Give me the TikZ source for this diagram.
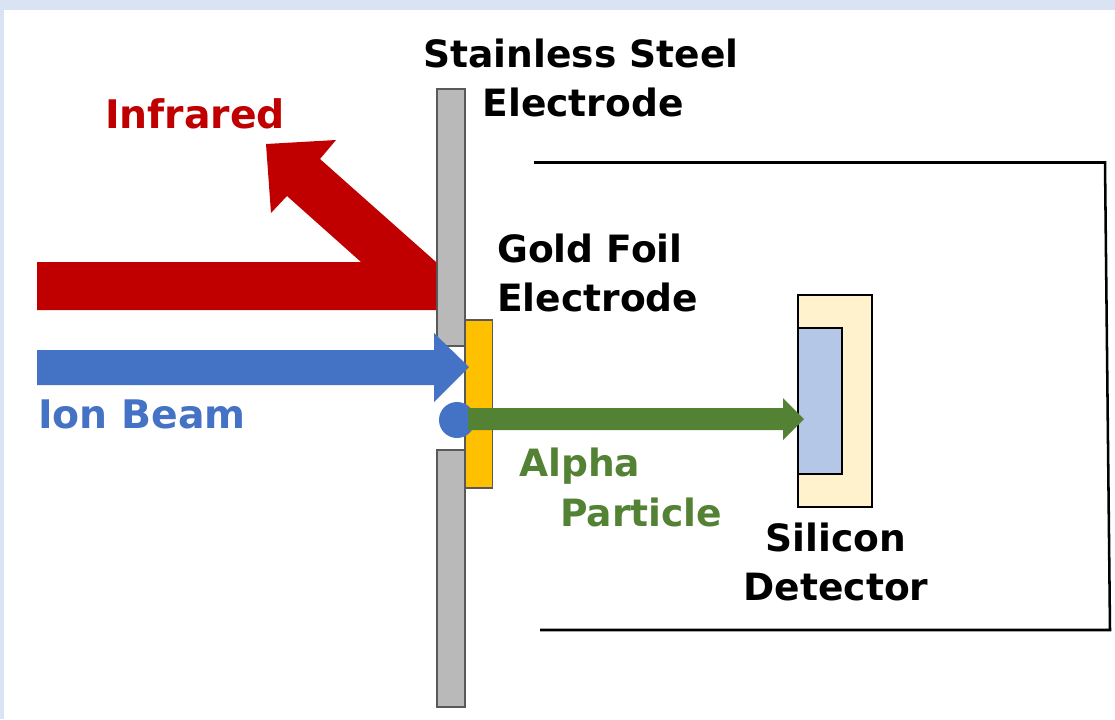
\documentclass[tikz,border=0pt]{standalone}
\usepackage{fontspec}
\setmainfont{DejaVu Sans}
\definecolor{bgblue}{HTML}{DAE3F3}
\definecolor{irred}{HTML}{C00000}
\definecolor{ionblue}{HTML}{4472C4}
\definecolor{alphagreen}{HTML}{548235}
\definecolor{gold}{HTML}{FFC000}
\definecolor{cream}{HTML}{FFF2CC}
\definecolor{siblue}{HTML}{B4C7E7}
\definecolor{steel}{HTML}{B9B9B9}
\definecolor{steeledge}{HTML}{595959}
\tikzset{
 lab/.style={font=\bfseries\fontsize{28.2pt}{37pt}\selectfont,align=center,inner sep=0pt,text=black},
 labbig/.style={lab,font=\bfseries\fontsize{29.5pt}{37pt}\selectfont},
 steelbar/.style={fill=steel,draw=steeledge,line width=1.6pt},
 detbox/.style={draw=black,line width=2.2pt},
 wall/.style={draw=black,line width=1.9pt}
}
\begin{document}
\begin{tikzpicture}[x=0.75pt,y=-0.75pt]
\useasboundingbox (0,0) rectangle (1115,719);
\fill[bgblue] (0,0) rectangle (1115,719);
\fill[white] (4,10) rectangle (1115,719);
% chamber
\draw[wall] (534,162.5) -- (1105,162.5) -- (1110,630) -- (540,630);
% steel electrode
\draw[steelbar] (437,89) rectangle (465,346);
\draw[steelbar] (437,450) rectangle (465,707);
% gold foil
\draw[fill=gold,draw=steeledge,line width=1.4pt] (465,320) rectangle (492.5,488);
% infrared
\fill[irred] (37,262) -- (361,262) -- (287,196) -- (271,213) -- (266,144) -- (336,140) -- (320,159) -- (436,262) -- (436,310) -- (37,310) -- cycle;
% ion beam
\fill[ionblue] (37,350) -- (434,350) -- (434,333) -- (469,367) -- (434,402) -- (434,385) -- (37,385) -- cycle;
\fill[ionblue] (457,420) circle[radius=18];
% alpha
\draw[detbox,fill=cream] (798,295) rectangle (872,507);
\draw[detbox,fill=siblue] (798,328) rectangle (842,474);
\fill[alphagreen] (468,408) -- (783,408) -- (783,398) -- (804,419) -- (783,440) -- (783,430) -- (468,430) -- cycle;
% labels
\node[lab] (steellabel) at (581,78) {Stainless Steel\\\hspace*{3pt}Electrode};
\node[labbig,text=irred] (irlabel) at (195,114) {Infrared};
\node[lab,anchor=west,align=left] (goldlabel) at (497,273) {Gold Foil\\Electrode};
\node[labbig,text=ionblue,anchor=west] (ionlabel) at (38,414) {Ion Beam};
\node[lab,text=alphagreen,anchor=west] (alphalabel) at (519,466) {Alpha};
\node[lab,text=alphagreen,anchor=west] (particlelabel) at (560,512) {Particle};
\node[lab] (silabel) at (836,562) {Silicon\\Detector};
\end{tikzpicture}
\end{document}
